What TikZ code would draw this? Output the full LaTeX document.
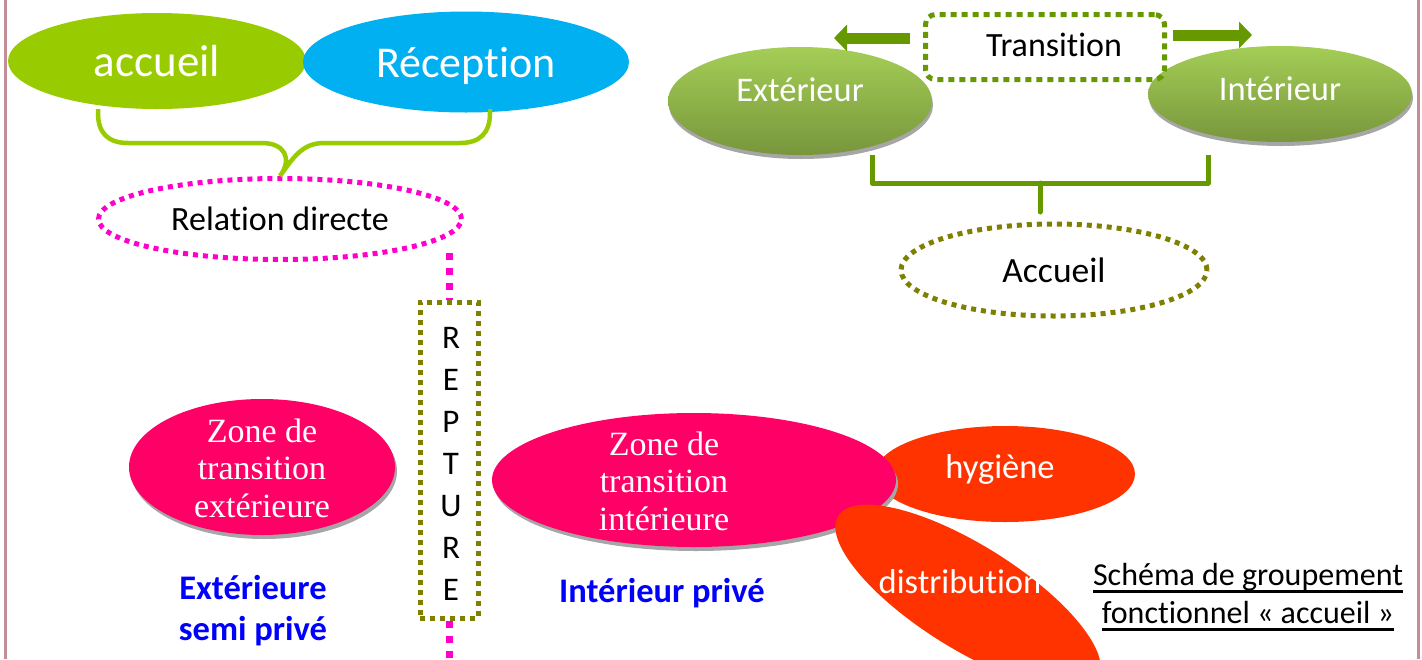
\documentclass[tikz,border=0pt]{standalone}
\usepackage{fontspec}
\setmainfont{Carlito}[Ligatures={NoCommon}]
\newfontfamily\zonefont{Liberation Serif}[Ligatures={NoCommon}]
\usetikzlibrary{arrows.meta,calc,shapes.geometric,shadows}

\definecolor{accgreen}{RGB}{153,204,0}
\definecolor{recblue}{RGB}{0,176,240}
\definecolor{zonepink}{RGB}{255,0,102}
\definecolor{hygred}{RGB}{255,51,0}
\definecolor{olivedot}{RGB}{128,128,0}
\definecolor{trgreen}{RGB}{102,153,0}
\definecolor{magdot}{RGB}{255,0,204}
\definecolor{leafhi}{RGB}{164,206,86}
\definecolor{leaflo}{RGB}{120,150,60}
\definecolor{framecol}{RGB}{196,142,152}

\newcommand{\undl}[1]{\setbox0=\hbox{#1}\rlap{\rule[-7pt]{\wd0}{2.6pt}}\box0}

\tikzset{
  blob/.style={ellipse, inner sep=0pt, text=white},
  leaf/.style={blob, top color=leafhi, bottom color=leaflo,
    drop shadow={shadow xshift=1pt, shadow yshift=-4pt, fill=black!35, opacity=1}},
  zone/.style={blob, fill=zonepink,
    drop shadow={shadow xshift=2pt, shadow yshift=-4pt, fill=black!35, opacity=1}},
  dotline/.style={line width=5pt, dash pattern=on 5pt off 5pt},
  blockarrow/.style={line width=11pt, trgreen, -{Triangle[length=13pt, width=26pt]}},
  bluenote/.style={text=blue, font=\bfseries\fontsize{34.5}{41}\selectfont, align=center},
  zonetext/.style={text=white, font=\zonefont\fontsize{34}{37.5}\selectfont, align=center},
}

\begin{document}
\begin{tikzpicture}[x=1pt, y=-1pt, >=Stealth]

\useasboundingbox (0,0) rectangle (1422,659);
\fill[white] (0,0) rectangle (1422,659);

% page frame
\draw[line width=3pt, framecol] (5,0) -- (5,659);
\draw[line width=3pt, framecol] (1418,0) -- (1418,659);

% accueil / reception
\node[blob, fill=accgreen, minimum width=298, minimum height=96,
  font=\fontsize{45}{50}\selectfont] (accueil) at (157,61) {accueil};
\node[blob, fill=recblue, minimum width=326, minimum height=101, text depth=0pt,
  font=\fontsize{44}{50}\selectfont] (reception) at (466,62) {Réception};

\node[ellipse, draw=magdot, dotline, minimum width=363, minimum height=81,
  font=\fontsize{34}{38}\selectfont] (relation) at (280,219) {Relation directe};

\coordinate (braceL) at (98,109);
\coordinate (braceR) at (490,109);
\coordinate (braceTip) at (relation.north);
\draw[accgreen, line width=4.5pt]
  (braceL) -- (98,113) .. controls (98,133) and (108,143) .. (128,143)
  -- (262,143) .. controls (284,143) and (293,158) .. (braceTip)
  .. controls (293,158) and (302,143) .. (324,143)
  -- (460,143) .. controls (480,143) and (490,133) .. (490,113) -- (braceR);

% rupture
\node[draw=olivedot, dotline, minimum width=58, minimum height=316] (rupture) at (449,460) {};
\foreach \ch [count=\i] in {R,E,P,T,U,R,E}
  \node[font=\fontsize{33}{36}\selectfont] (let\i) at (451,{338+42*(\i-1)}) {\ch};

\coordinate (relEnd) at (449,253);
\coordinate (pageEnd) at (449,659);
\draw[magdot, line width=7pt, dash pattern=on 7pt off 8pt] (relEnd) -- (rupture.north);
\draw[magdot, line width=7pt, dash pattern=on 7pt off 8pt] (rupture.south) -- (pageEnd);

% transition exterieur / interieur
\node[leaf, minimum width=264, minimum height=108] (exterieur) at (800,101) {};
\node[text=white, font=\fontsize{34.5}{38}\selectfont] (extTxt) at (800,90) {Extérieur};
\node[leaf, minimum width=264, minimum height=96] (interieur) at (1280,94) {};
\node[text=white, font=\fontsize{34.5}{38}\selectfont] (intTxt) at (1280,89) {Intérieur};

\node[draw=trgreen, line width=5pt, dash pattern=on 6pt off 5pt, rounded corners=10pt,
  minimum width=239, minimum height=65] (transition) at (1045,47) {};
\node[font=\fontsize{34}{38}\selectfont] (trTxt) at (1054,45) {Transition};

\coordinate (arrLa) at (910,38);
\coordinate (arrLb) at (834,38);
\coordinate (arrRa) at (1173,35);
\coordinate (arrRb) at (1252,35);
\draw[blockarrow] (arrLa) -- (arrLb);
\draw[blockarrow] (arrRa) -- (arrRb);

\node[ellipse, draw=olivedot, dotline, minimum width=306, minimum height=92,
  font=\fontsize{35.5}{38}\selectfont] (accueilB) at (1054,270) {Accueil};

\coordinate (brkL) at (872,155);
\coordinate (brkR) at (1208,155);
\coordinate (brkMid) at (1040,183);
\coordinate (brkEnd) at (1040,212);
\draw[trgreen, line width=5pt, line join=round]
  (brkL) -- (872,183) -- (1208,183) -- (brkR);
\draw[trgreen, line width=5pt, line cap=round] (brkMid) -- (brkEnd);

% zones
\node[zone, minimum width=266, minimum height=136] (zoneExt) at (262,467) {};
\node[zonetext] (zoneExtTxt) at (262,468) {Zone de\\transition\\extérieure};

\node[blob, fill=hygred, minimum width=260, minimum height=96] (hygiene) at (1005,474) {};
\node[text=white, font=\fontsize{34.5}{38}\selectfont] (hygTxt) at (1000,469) {hygiène};

\node[zone, minimum width=404, minimum height=134] (zoneInt) at (694,480) {};
\node[zonetext] (zoneIntTxt) at (664,481) {Zone de\\transition\\intérieure};

\node[blob, fill=hygred, minimum width=306, minimum height=104, rotate=-32] (distrib) at (968,597) {};
\node[text=white, font=\fontsize{34.5}{38}\selectfont] (distTxt) at (960,582) {distribution};

% notes
\node[bluenote] (extNote) at (253,611) {Extérieure\\semi privé};
\node[bluenote] (intNote) at (662,593) {Intérieur privé};

\node[align=center, font=\fontsize{32}{38}\selectfont] (caption) at (1248,597)
  {\undl{Schéma de groupement}\\\undl{fonctionnel « accueil »}};

\end{tikzpicture}
\end{document}
